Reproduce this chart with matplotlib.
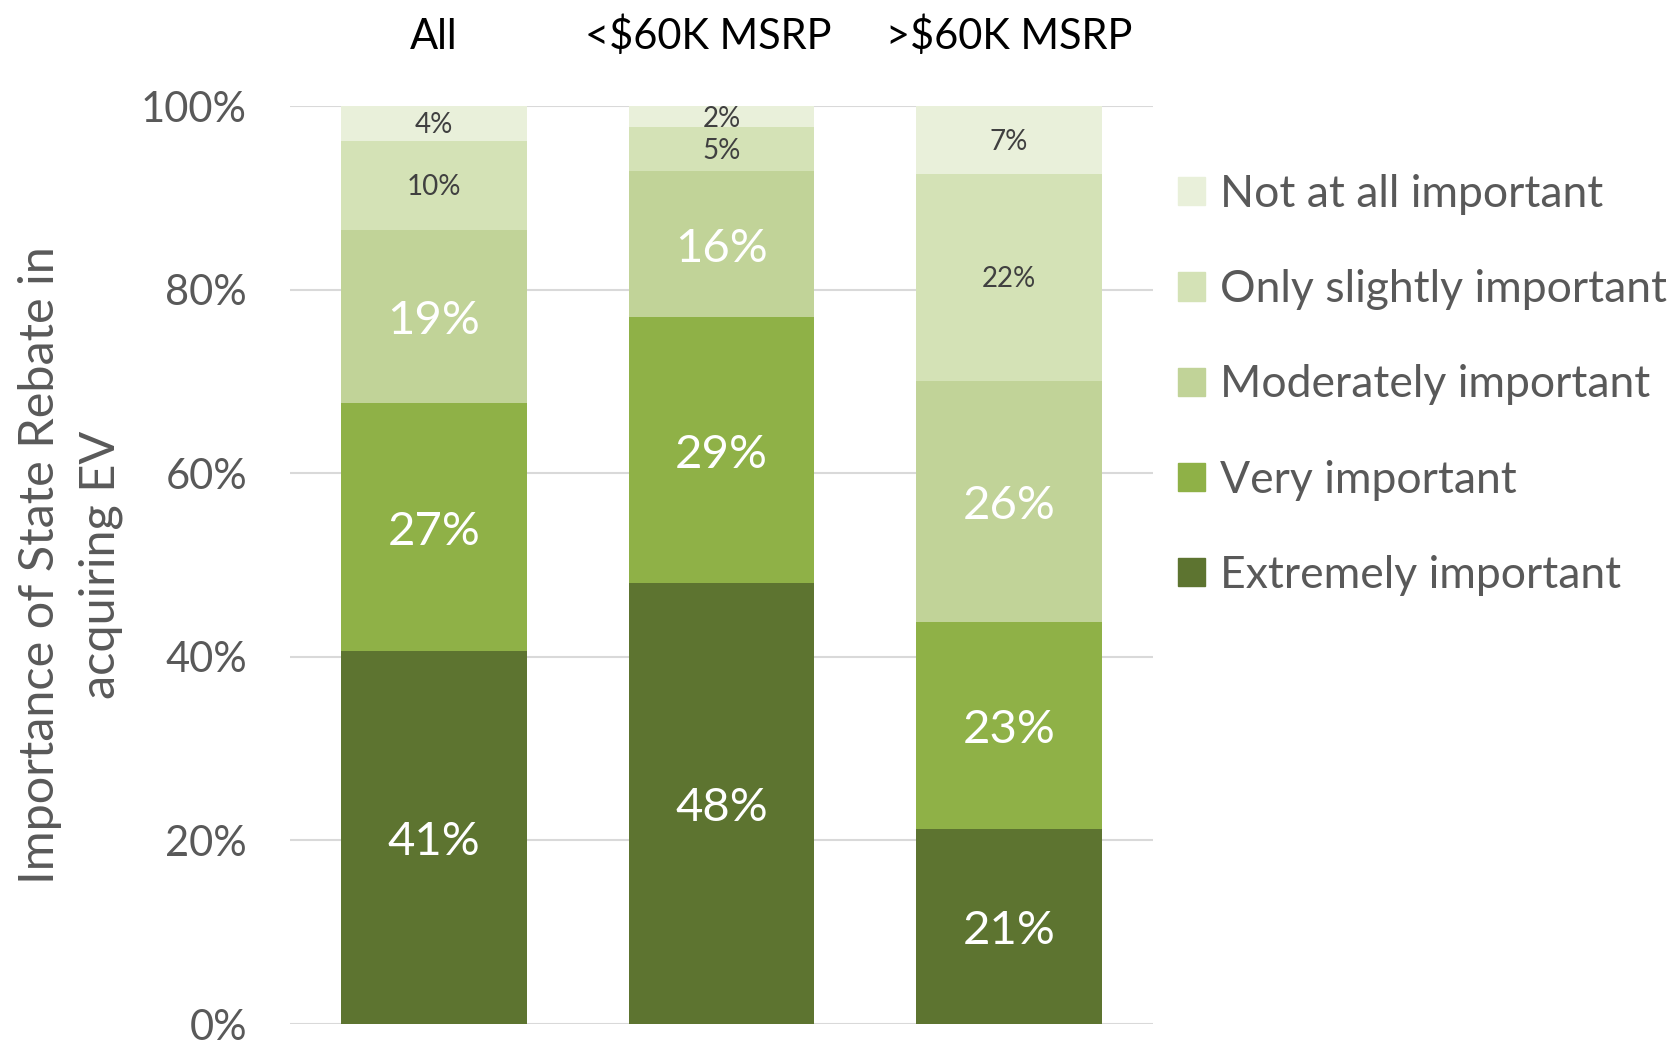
import numpy as np
import matplotlib.pyplot as plt
import matplotlib.transforms as mtransforms
from matplotlib.patches import Patch

plt.rcParams['font.family'] = ['Lato', 'DejaVu Sans']

groups = ["All", "<$60K MSRP", ">$60K MSRP"]
levels = ["Extremely important", "Very important", "Moderately important",
          "Only slightly important", "Not at all important"]

# share of respondents (%) per group, bottom to top
extremely = [40.6, 48.0, 21.2]
very = [27.1, 29.0, 22.6]
moderately = [18.8, 15.9, 26.3]
slightly = [9.7, 4.8, 22.5]
not_at_all = [3.8, 2.3, 7.4]

colors = ["#5d7430", "#8fb147", "#c1d398", "#d4e2b6", "#e9f0da"]

fig = plt.figure(figsize=(16.69, 10.41), dpi=100)
ax = fig.add_axes([0.1738, 0.0163, 0.5170, 0.8817])

x = np.arange(len(groups))
bottom = np.zeros(len(groups))
series = [extremely, very, moderately, slightly, not_at_all]
for i, vals in enumerate(series):
    vals = np.array(vals) / 100
    ax.bar(x, vals, 0.646, bottom=bottom, color=colors[i], zorder=2)
    for xi, b, v in zip(x, bottom, vals):
        if i < 3:
            ax.text(xi, b + v / 2 - 0.005, "{:.0f}%".format(v * 100), ha="center", va="center",
                    color="white", fontsize=34)
        else:
            ax.text(xi, b + v / 2 - 0.002, "{:.0f}%".format(v * 100), ha="center", va="center",
                    color="#404040", fontsize=20)
    bottom += vals

ax.set_xlim(-0.5, 2.5)
ax.set_ylim(0, 1)
ax.set_yticks(np.arange(0, 1.01, 0.2))
ax.set_yticklabels(["{:.0f}%".format(t * 100) for t in np.arange(0, 1.01, 0.2)])
ax.yaxis.grid(True, color="#d9d9d9", linewidth=1.5, zorder=0)
ax.set_axisbelow(True)
ax.tick_params(axis="y", length=0, pad=31, labelsize=30, labelcolor="#595959")

ax.xaxis.tick_top()
ax.set_xticks(x)
ax.set_xticklabels(groups)
ax.tick_params(axis="x", length=0, pad=36, labelsize=30, labelcolor="black")
# nudge the middle group title a little to the left
shift = mtransforms.ScaledTranslation(-0.13, 0, fig.dpi_scale_trans)
mid = ax.xaxis.get_major_ticks()[1].label2
mid.set_transform(mid.get_transform() + shift)

for s in ax.spines.values():
    s.set_visible(False)

ax.set_ylabel("Importance of State Rebate in\nacquiring EV", fontsize=35,
              color="#595959", labelpad=13, linespacing=1.45)

handles = [Patch(color=colors[i]) for i in range(4, -1, -1)]
labels = [levels[i] for i in range(4, -1, -1)]
fig.legend(handles, labels, loc="upper left", bbox_to_anchor=(1178 / 1669, 1 - 174 / 1041),
           frameon=False, fontsize=32, labelcolor="#595959", handlelength=0.6,
           handleheight=0.6, handletextpad=0.35, labelspacing=1.22, borderpad=0,
           borderaxespad=0)

fig.savefig("out.png", dpi=100)
